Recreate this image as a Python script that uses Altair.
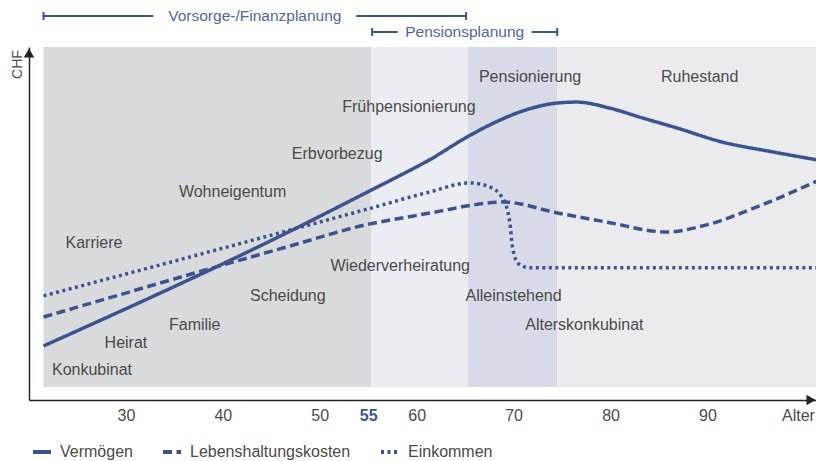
import altair as alt
import pandas as pd

# ---------------- data ----------------
serien = ["Vermögen", "Lebenshaltungskosten", "Einkommen"]

vermoegen_alter = [21.5, 47.0, 55.2, 58.2, 61.3, 65.2, 68.2, 71.3, 74.4, 76.5, 79.9, 83.3, 86.8, 91.5, 96.7, 102.0]
vermoegen_wert = [15.3, 47.9, 59.3, 63.5, 68.0, 74.5, 78.8, 82.2, 84.1, 84.4, 82.7, 79.9, 77.1, 73.1, 70.3, 67.7]

kosten_alter = [21.5, 46.9, 55.2, 59.0, 62.4, 65.3, 68.9, 74.5, 79.6, 85.8, 89.9, 95.1, 102.0]
kosten_wert = [23.5, 43.6, 49.9, 51.8, 53.5, 55.0, 56.1, 53.0, 50.4, 47.6, 49.6, 54.7, 62.9]

einkommen_alter = [21.5, 55.2, 61.3, 65.5, 67.4, 68.8, 69.6, 69.9, 70.5, 71.6, 102.0]
einkommen_wert = [29.5, 54.3, 58.9, 61.5, 60.5, 57.5, 50.5, 43.0, 38.6, 37.5, 37.5]

ereignisse = ["Konkubinat", "Heirat", "Familie", "Scheidung", "Karriere", "Wohneigentum",
              "Erbvorbezug", "Frühpensionierung", "Wiederverheiratung", "Pensionierung",
              "Ruhestand", "Alleinstehend", "Alterskonkubinat"]
ereignis_alter = [26.5, 30.0, 37.1, 46.7, 26.7, 41.0, 51.8, 59.2, 58.3, 71.7, 89.2, 70.0, 77.3]
ereignis_wert = [8.5, 16.1, 21.2, 29.5, 44.5, 58.9, 69.7, 83.0, 38.0, 91.5, 91.5, 29.5, 21.2]

phasen = ["Erwerbsleben", "Vorpension", "Pensionierung", "Ruhestand"]
phase_start = [21.5, 55.3, 65.3, 74.5]
phase_ende = [55.3, 65.3, 74.5, 102.0]

planung = ["Vorsorge-/Finanzplanung", "Pensionsplanung"]
planung_start = [21.5, 55.4]
planung_ende = [65.1, 74.5]

x_ticks = [30, 40, 50, 55, 60, 70, 80, 90, 100]

# ---------------- style ----------------
FONT = "Liberation Sans"
FS = 16
BLUE = "#3b5491"
LABEL_BLUE = "#5066a3"
TEXT = "#4a4a4a"
phase_farben = ["#d9dadc", "#ecedf3", "#d8dae8", "#ebebee"]
W, H = 787, 353
X_SCALE = alt.Scale(domain=[20, 101.2], nice=False, zero=False)
Y_SCALE = alt.Scale(domain=[0, 100], nice=False, zero=False)

IS55 = "datum.value == 55"
IS100 = "datum.value == 100"
X_AXIS = alt.Axis(
    values=x_ticks, title=None, grid=False, ticks=False,
    domainColor="#222222", domainWidth=1.5,
    labelExpr="datum.value == 100 ? 'Alter' : datum.label",
    labelFontSize=FS, labelFont=FONT, labelPadding=7,
    labelFlush=False, labelOverlap=False,
    labelAlign={"condition": {"test": IS100, "value": "right"}, "value": "center"},
    labelOffset={"condition": {"test": IS100, "value": 10}, "value": 0},
    labelColor={"condition": {"test": IS55, "value": BLUE}, "value": TEXT},
    labelFontWeight={"condition": {"test": IS55, "value": "bold"}, "value": "normal"},
)
Y_AXIS = alt.Axis(
    title="CHF", labels=False, ticks=False, grid=False,
    domainColor="#222222", domainWidth=1.5,
    titleAngle=270, titleX=-12, titleY=17, titleAlign="center", titleBaseline="middle",
    titleFontSize=14, titleFontWeight="normal", titleFont=FONT, titleColor=TEXT,
)

# ---------------- tables ----------------
lines_df = pd.concat([
    pd.DataFrame({"alter": vermoegen_alter, "wert": vermoegen_wert, "serie": serien[0]}),
    pd.DataFrame({"alter": kosten_alter, "wert": kosten_wert, "serie": serien[1]}),
    pd.DataFrame({"alter": einkommen_alter, "wert": einkommen_wert, "serie": serien[2]}),
], ignore_index=True)
events_df = pd.DataFrame({"alter": ereignis_alter, "wert": ereignis_wert, "name": ereignisse})
phasen_df = pd.DataFrame({"phase": phasen, "start": phase_start, "ende": phase_ende})

# ---------------- layers ----------------
shading = alt.Chart(phasen_df).mark_rect(strokeWidth=0).encode(
    x=alt.X("start:Q", scale=X_SCALE, axis=X_AXIS),
    x2="ende:Q",
    y=alt.value(0),
    y2=alt.value(340),
    color=alt.Color("phase:N", scale=alt.Scale(domain=phasen, range=phase_farben), legend=None),
)

lines = alt.Chart(lines_df).mark_line(interpolate="monotone", strokeWidth=3.5, strokeCap="butt").encode(
    x=alt.X("alter:Q", scale=X_SCALE, axis=X_AXIS),
    y=alt.Y("wert:Q", scale=Y_SCALE, axis=Y_AXIS),
    strokeDash=alt.StrokeDash(
        "serie:N",
        scale=alt.Scale(domain=serien, range=[[1, 0], [9, 4.5], [3, 3.5]]),
        legend=alt.Legend(
            title=None, orient="none", direction="horizontal", columns=3,
            legendX=2, legendY=394, padding=0, columnPadding=22,
            symbolType="stroke", symbolSize=324, symbolStrokeWidth=4,
            symbolStrokeColor=BLUE, labelOffset=7, labelLimit=400,
            labelFontSize=FS, labelFont=FONT, labelColor=TEXT,
        ),
    ),
    color=alt.value(BLUE),
)

labels = alt.Chart(events_df).mark_text(
    fontSize=FS, font=FONT, color=TEXT, align="center", baseline="middle"
).encode(
    x=alt.X("alter:Q", scale=X_SCALE, axis=X_AXIS),
    y=alt.Y("wert:Q", scale=Y_SCALE, axis=Y_AXIS),
    text="name:N",
)

arrow_df = pd.DataFrame({"a": [0]})
arrow_right = alt.Chart(arrow_df).mark_point(
    shape="triangle-right", filled=True, size=110, color="#222222", opacity=1
).encode(x=alt.value(W - 5), y=alt.value(H))
arrow_up = alt.Chart(arrow_df).mark_point(
    shape="triangle-up", filled=True, size=110, color="#222222", opacity=1
).encode(x=alt.value(0), y=alt.value(6))


def planungs_layer(i, y_px, half_gap):
    df = pd.DataFrame({"name": [planung[i]], "start": [planung_start[i]], "ende": [planung_ende[i]]})
    base = alt.Chart(df).transform_calculate(mitte="(datum.start + datum.ende) / 2")
    xs = alt.X("start:Q", scale=X_SCALE, axis=X_AXIS)
    left = base.mark_rule(color=BLUE, strokeWidth=2, x2Offset=-half_gap).encode(
        x=xs, x2="mitte:Q", y=alt.value(y_px))
    right = base.mark_rule(color=BLUE, strokeWidth=2, xOffset=half_gap).encode(
        x=alt.X("mitte:Q", scale=X_SCALE, axis=X_AXIS), x2="ende:Q", y=alt.value(y_px))
    cap_l = base.mark_rule(color=BLUE, strokeWidth=2).encode(
        x=xs, y=alt.value(y_px - 4), y2=alt.value(y_px + 4))
    cap_r = base.mark_rule(color=BLUE, strokeWidth=2).encode(
        x=alt.X("ende:Q", scale=X_SCALE, axis=X_AXIS), y=alt.value(y_px - 4), y2=alt.value(y_px + 4))
    text = base.mark_text(fontSize=15.5, font=FONT, color=LABEL_BLUE, align="center", baseline="middle").encode(
        x=alt.X("mitte:Q", scale=X_SCALE, axis=X_AXIS), y=alt.value(y_px), text="name:N")
    return [left, right, cap_l, cap_r, text]


chart = alt.layer(
    shading, lines, labels, arrow_right, arrow_up,
    *planungs_layer(0, -31, 101.5),
    *planungs_layer(1, -15, 67),
).properties(
    width=W, height=H,
    autosize=alt.AutoSizeParams(type="none"),
    padding={"left": 21, "top": 39, "right": 0, "bottom": 61},
    background="white",
).configure_view(stroke=None)

chart.save("out.html", embed_options={"renderer": "svg", "actions": False})
